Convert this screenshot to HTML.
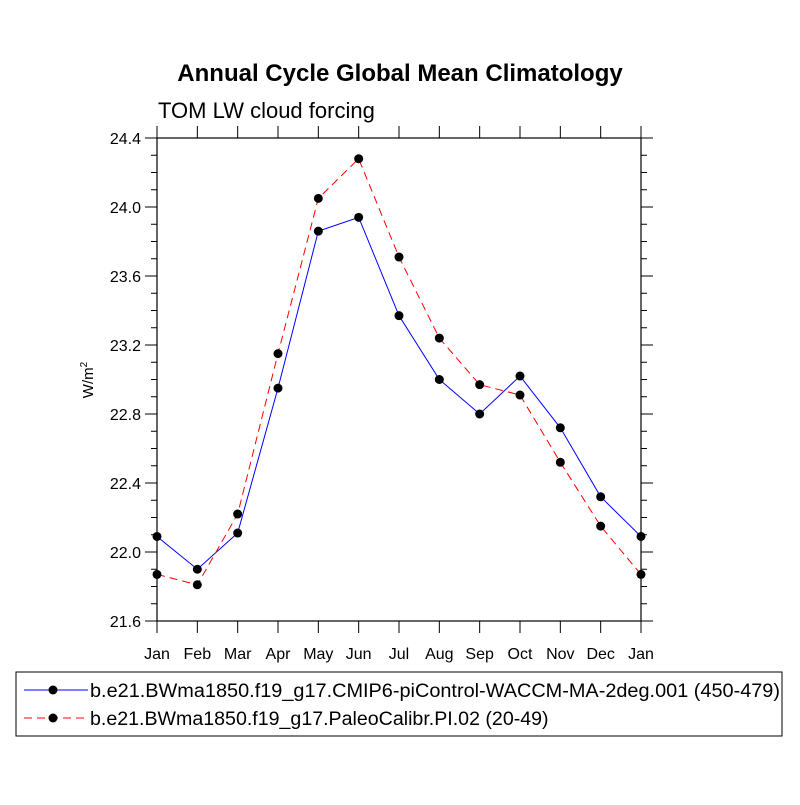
<!DOCTYPE html>
<html><head><meta charset="utf-8"><style>
body{margin:0;background:#fff}
svg text{font-family:"Liberation Sans",sans-serif}
</style></head><body>
<svg id="c" width="800" height="800" xmlns="http://www.w3.org/2000/svg">
<text x="400" y="81" text-anchor="middle" font-size="24" font-weight="bold">Annual Cycle Global Mean Climatology</text>
<text x="158" y="118" font-size="22">TOM LW cloud forcing</text>
<text transform="translate(93,380) rotate(-90)" text-anchor="middle" font-size="15">W/m<tspan dy="-6" font-size="10">2</tspan></text>
<g id="axes"></g>
<g id="series"></g>
<g>
<rect x="16" y="672" width="766" height="64" fill="none" stroke="#000" stroke-width="1"/>
<line x1="24" y1="690" x2="88" y2="690" stroke="#0000ff" stroke-width="1"/>
<circle cx="53" cy="690" r="4.5" fill="#000"/>
<text x="90" y="697" font-size="19.6" textLength="690" lengthAdjust="spacingAndGlyphs">b.e21.BWma1850.f19_g17.CMIP6-piControl-WACCM-MA-2deg.001 (450-479)</text>
<line x1="24" y1="718" x2="88" y2="718" stroke="#ff0000" stroke-width="1" stroke-dasharray="8,5"/>
<circle cx="53" cy="718" r="4.5" fill="#000"/>
<text x="90" y="725" font-size="19.6">b.e21.BWma1850.f19_g17.PaleoCalibr.PI.02 (20-49)</text>
</g>
</svg>
<script>
const months=["Jan","Feb","Mar","Apr","May","Jun","Jul","Aug","Sep","Oct","Nov","Dec","Jan"];
const blueValues=[22.09,21.90,22.11,22.95,23.86,23.94,23.37,23.00,22.80,23.02,22.72,22.32,22.09];
const redValues=[21.87,21.81,22.22,23.15,24.05,24.28,23.71,23.24,22.97,22.91,22.52,22.15,21.87];
const yTicks=["21.6","22.0","22.4","22.8","23.2","23.6","24.0","24.4"];
const L=157,R=641,T=138,B=621,ymin=21.6,ymax=24.4;
const xs=i=>L+(R-L)*i/(months.length-1);
const ys=v=>B-(B-T)*(v-ymin)/(ymax-ymin);
const NS="http://www.w3.org/2000/svg";
function mk(t,a,p){const e=document.createElementNS(NS,t);for(const k in a)e.setAttribute(k,a[k]);p.appendChild(e);return e;}
const ax=document.getElementById('axes');
const fr=mk('rect',{x:L,y:T,width:R-L,height:B-T,fill:'none',stroke:'#000','stroke-width':1.2},ax);


months.forEach((m,i)=>{const x=xs(i);
mk('line',{x1:x,y1:B,x2:x,y2:B+12,stroke:'#000'},ax);
mk('line',{x1:x,y1:T,x2:x,y2:T-12,stroke:'#000'},ax);
const t=mk('text',{x:x,y:B+38,'text-anchor':'middle','font-size':16},ax);t.textContent=m;

});
for(let v=ymin;v<=ymax+1e-6;v+=0.1){const y=ys(v);const maj=Math.abs(Math.round(v*10)%4)===0;const len=maj?12:6;
mk('line',{x1:L,y1:y,x2:L-len,y2:y,stroke:'#000'},ax);
mk('line',{x1:R,y1:y,x2:R+len,y2:y,stroke:'#000'},ax);}
yTicks.forEach(s=>{const v=parseFloat(s);const t=mk('text',{x:L-16,y:ys(v)+6,'text-anchor':'end','font-size':16},ax);t.textContent=s;

});
const se=document.getElementById('series');
function draw(vals,color,dash,name){
const p=mk('polyline',{points:vals.map((v,i)=>xs(i)+','+ys(v)).join(' '),fill:'none',stroke:color,'stroke-width':1,'stroke-dasharray':dash},se);


vals.forEach((v,i)=>{const c=mk('circle',{cx:xs(i),cy:ys(v),r:4.5,fill:'#000'},se);

});}
draw(blueValues,'#0000ff','none','blue-series');
draw(redValues,'#ff0000','8,5','red-series');
</script>
</body></html>
